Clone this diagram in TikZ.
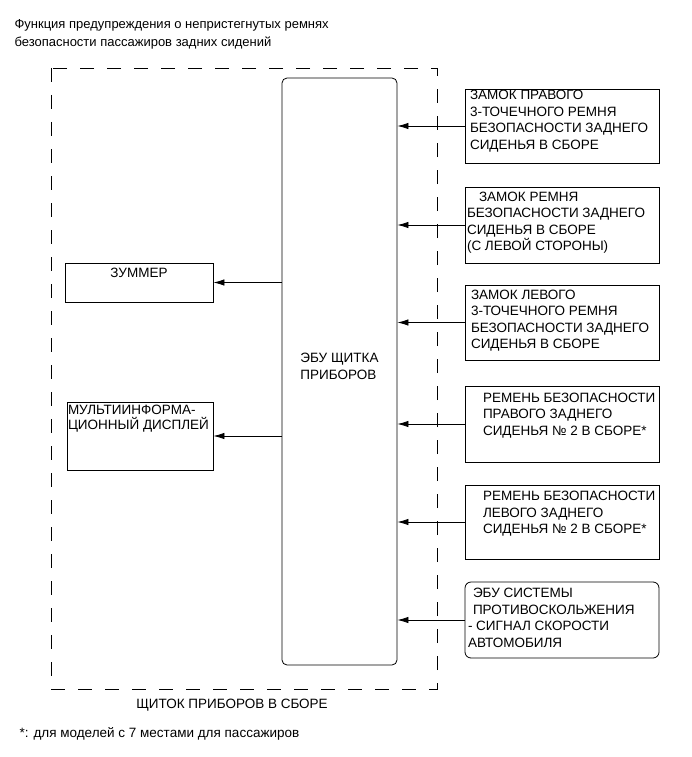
\documentclass[tikz,border=0pt]{standalone}
\usepackage{fontspec}
\setmainfont{Liberation Sans}
\usetikzlibrary{arrows.meta}

% текст в блоке: высота, ширина, отступ слева, отступ сверху, текст
\newcommand{\tekstbloka}[5]{\parbox[c][#1][t]{#2}{\raggedright\leftskip=#3\relax\vspace*{#4}#5}}

\begin{document}
\begin{tikzpicture}[
    x=1pt, y=-1pt,
    every node/.style={
        font=\fontsize{13.5}{16.5}\selectfont
    },
    blok/.style={
        draw,
        rectangle,
        line width=0.8pt,
        inner sep=0pt
    },
    ebu/.style={
        draw,
        rectangle,
        rounded corners=5pt,
        line width=0.8pt,
        minimum width=115pt,
        minimum height=587pt
    },
    ramka/.style={
        line width=0.8pt,
        dash pattern=on 14pt off 13pt
    },
    strelka/.style={
        -{Latex[length=11pt,width=6.5pt]},
        line width=0.8pt
    }
]
    \useasboundingbox (0,0) rectangle (691,757);

    % Заголовок
    \node[anchor=base west, align=left, font=\fontsize{13}{18}\selectfont] (zagolovok) at (11,47)
        {Функция предупреждения о непристегнутых ремнях\\безопасности пассажиров задних сидений};

    % Щиток приборов (пунктир)
    \draw[ramka] (51,68) -- (51,689) -- (437,689) -- (437,68) -- cycle;
    \node[anchor=base] (shchitok) at (232,708) {ЩИТОК ПРИБОРОВ В СБОРЕ};

    % ЭБУ щитка
    \node[ebu] (ebu_shchitka) at (339.5,371.5) {};
    \node[align=left] (ebu_tekst) at ([yshift=5pt]ebu_shchitka.center) {ЭБУ ЩИТКА\\ПРИБОРОВ};

    % Блоки слева
    \node[blok] (zummer) at (139,282.5)
        {\parbox[c][39pt][t]{148pt}{\centering\vspace*{5pt}ЗУММЕР}};
    \node[blok] (displej) at (140,436)
        {\tekstbloka{68pt}{146pt}{1pt}{3pt}{\fontsize{13.5}{15}\selectfont МУЛЬТИИНФОРМА-\\ЦИОННЫЙ ДИСПЛЕЙ}};

    % Блоки справа
    \node[blok] (zamok_prav) at (562,126)
        {\tekstbloka{74pt}{194pt}{5pt}{1.5pt}{ЗАМОК ПРАВОГО\\3-ТОЧЕЧНОГО РЕМНЯ\\БЕЗОПАСНОСТИ ЗАДНЕГО\\СИДЕНЬЯ В СБОРЕ}};
    \node[blok] (zamok_lev_sid) at (562,225)
        {\tekstbloka{76pt}{194pt}{2pt}{5pt}{\hspace*{12pt}ЗАМОК РЕМНЯ\\БЕЗОПАСНОСТИ ЗАДНЕГО\\СИДЕНЬЯ В СБОРЕ\\(С ЛЕВОЙ СТОРОНЫ)}};
    \node[blok] (zamok_lev) at (562,322.5)
        {\tekstbloka{75pt}{194pt}{6pt}{5pt}{ЗАМОК ЛЕВОГО\\3-ТОЧЕЧНОГО РЕМНЯ\\БЕЗОПАСНОСТИ ЗАДНЕГО\\СИДЕНЬЯ В СБОРЕ}};
    \node[blok] (remen_prav) at (562,424)
        {\tekstbloka{76pt}{194pt}{18pt}{7pt}{РЕМЕНЬ БЕЗОПАСНОСТИ\\ПРАВОГО ЗАДНЕГО\\СИДЕНЬЯ № 2 В СБОРЕ*}};
    \node[blok] (remen_lev) at (562,522)
        {\tekstbloka{74pt}{194pt}{18pt}{6.5pt}{РЕМЕНЬ БЕЗОПАСНОСТИ\\ЛЕВОГО ЗАДНЕГО\\СИДЕНЬЯ № 2 В СБОРЕ*}};
    \node[blok, rounded corners=6pt] (ebu_vsc) at (562,620)
        {\tekstbloka{76pt}{194pt}{3pt}{6.5pt}{\hspace*{5pt}ЭБУ СИСТЕМЫ\\\hspace*{5pt}ПРОТИВОСКОЛЬЖЕНИЯ\\- СИГНАЛ СКОРОСТИ\\АВТОМОБИЛЯ}};

    % Стрелки
    \foreach \blk in {zamok_prav, zamok_lev_sid, zamok_lev, remen_prav, remen_lev, ebu_vsc}
        \draw[strelka] (\blk.west) -- (\blk.west -| ebu_shchitka.east);
    \foreach \blk in {zummer, displej}
        \draw[strelka] (\blk.east -| ebu_shchitka.west) -- (\blk.east);

    % Примечание
    \node[anchor=base west] (primechanie) at (16,737) {*: для моделей с 7 местами для пассажиров};

\end{tikzpicture}
\end{document}
